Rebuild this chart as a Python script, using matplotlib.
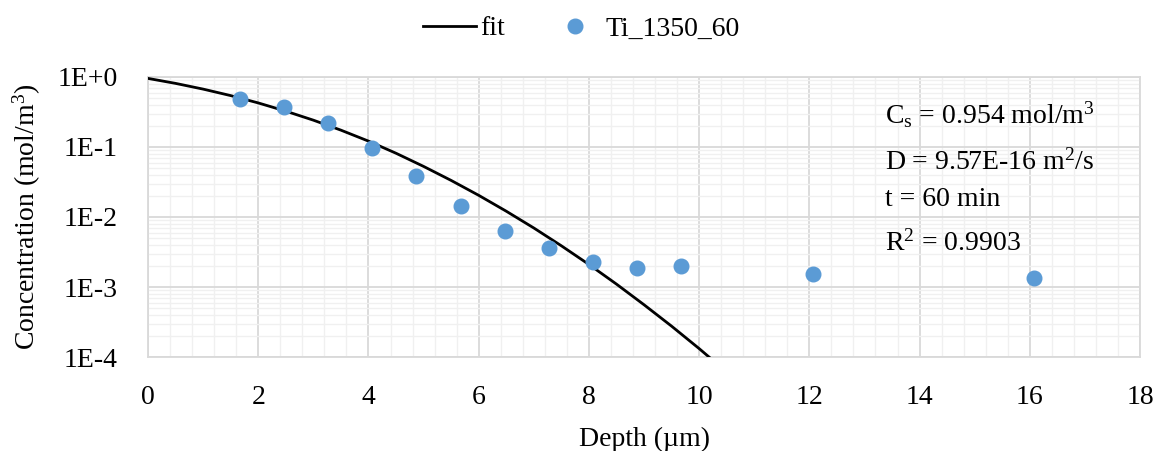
import matplotlib
matplotlib.use("Agg")
from matplotlib import pyplot as plt
from matplotlib.ticker import FixedLocator, LogLocator, MultipleLocator, NullFormatter

plt.rcParams['font.family'] = ['Liberation Serif', 'DejaVu Serif']
plt.rcParams['mathtext.fontset'] = 'custom'
plt.rcParams['mathtext.rm'] = 'Liberation Serif'
plt.rcParams['mathtext.it'] = 'Liberation Serif'

# measured points (Ti_1350_60)
depth = [1.67, 2.47, 3.27, 4.07, 4.87, 5.67, 6.47, 7.27, 8.07, 8.87, 9.67, 12.07, 16.07]
conc = [0.485, 0.373, 0.22, 0.097, 0.0385, 0.0144, 0.0063, 0.0036, 0.00228,
        0.00187, 0.0020, 0.00153, 0.00134]

# fit curve values
fit_depth = [0, 0.5, 1, 1.5, 2, 2.5, 3, 3.5, 4, 4.5, 5, 5.5, 6, 6.5, 7, 7.5, 8,
             8.5, 9, 9.5, 10, 10.5, 11]
fit_conc = [0.954, 0.810, 0.671, 0.542, 0.426, 0.325, 0.2416, 0.174, 0.1213,
            0.0814, 0.0528, 0.0333, 0.0204, 0.0121, 0.00697, 0.00388, 0.00210,
            0.00110, 0.000558, 0.000276, 0.000132, 0.000061, 0.000027]

ytick_vals = [1e0, 1e-1, 1e-2, 1e-3, 1e-4]
ytick_labels = ['1E+0', '1E-1', '1E-2', '1E-3', '1E-4']

fs = 20

fig = plt.figure(figsize=(11.63, 4.51), dpi=100)
ax = fig.add_axes([0.1273, 0.2084, 0.8529, 0.6209])

ax.plot(fit_depth, fit_conc, color='black', lw=2.0, label='fit', zorder=3)
ax.plot(depth, conc, 'o', color='#5B9BD5', ms=10.5, mec='#5B9BD5',
        label='Ti_1350_60', zorder=4)

ax.set_yscale('log')
ax.set_xlim(0, 18)
ax.set_ylim(1e-4, 1)
ax.xaxis.set_major_locator(MultipleLocator(2))
ax.xaxis.set_minor_locator(MultipleLocator(0.4))
ax.yaxis.set_major_locator(FixedLocator(ytick_vals))
ax.set_yticklabels(ytick_labels)
ax.yaxis.set_minor_locator(LogLocator(base=10, subs=range(2, 10)))
ax.yaxis.set_minor_formatter(NullFormatter())

ax.grid(which='major', color='#d9d9d9', lw=1.3)
ax.grid(which='minor', color='#f0f0f0', lw=1.0)
ax.set_axisbelow(True)
ax.tick_params(which='both', length=0, labelsize=fs)
ax.tick_params(axis='x', pad=20)
ax.tick_params(axis='y', pad=22)
for s in ax.spines.values():
    s.set_color('#d9d9d9')
    s.set_linewidth(1.3)

ax.set_xlabel('Depth (µm)', fontsize=fs, labelpad=12)
ax.set_ylabel('Concentration (mol/m$^3$)', fontsize=fs, labelpad=10)

tx = 0.743
ax.text(tx, 0.864, 'C$_\\mathrm{s}$ = 0.954 mol/m$^3$', transform=ax.transAxes,
        fontsize=fs, va='center')
ax.text(tx, 0.696, 'D = 9.57E-16 m$^2$/s', transform=ax.transAxes, fontsize=fs, va='center')
ax.text(tx, 0.561, 't = 60 min', transform=ax.transAxes, fontsize=fs, va='center')
ax.text(tx, 0.407, 'R$^2$ = 0.9903', transform=ax.transAxes, fontsize=fs, va='center')

fig.legend(loc='upper center', bbox_to_anchor=(0.5, 1.02), ncol=2, frameon=False,
           fontsize=fs, handlelength=1.9, columnspacing=1.6, handletextpad=0.15)

fig.savefig('out.png', dpi=100)
